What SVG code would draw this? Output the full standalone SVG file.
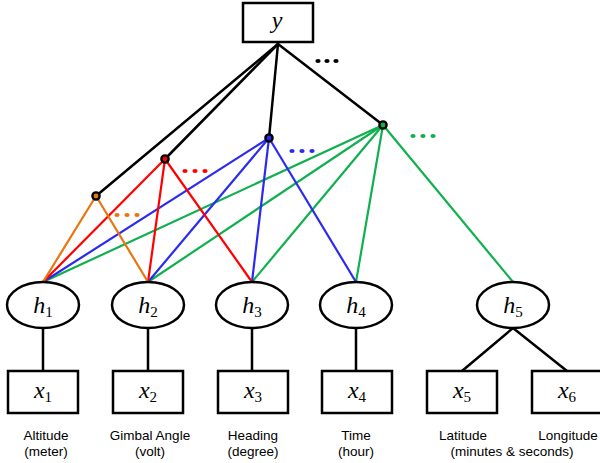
<svg xmlns="http://www.w3.org/2000/svg" width="600" height="463" viewBox="0 0 600 463">
<style>
.box{fill:#fff;stroke:#000;stroke-width:2.5}
.ell{fill:#fff;stroke:#000;stroke-width:2.5}
.blk{stroke:#000;stroke-width:2.5;fill:none;stroke-linecap:round}
.or{stroke:#E8760F;stroke-width:2.2}
.rd{stroke:#FF0000;stroke-width:2.2}
.bl{stroke:#2B2BF0;stroke-width:2.2}
.gr{stroke:#10B050;stroke-width:2.2}
.math{font-family:"Liberation Serif","Times New Roman",serif;font-style:italic;font-size:24px;text-anchor:middle}
.sub{font-size:15px;font-style:normal}
.lab{font-family:"Liberation Sans",Arial,sans-serif;font-size:13.5px;text-anchor:middle;fill:#000}
.hn{stroke:#000;stroke-width:2.4}
</style>
<g id="connectors">
  <line class="blk" x1="278" y1="44" x2="96" y2="196"/>
  <line class="blk" x1="278" y1="44" x2="165" y2="159"/>
  <line class="blk" x1="278" y1="44" x2="269" y2="138"/>
  <line class="blk" x1="278" y1="44" x2="383" y2="125"/>
  <line class="gr" x1="383" y1="125" x2="43" y2="282"/>
  <line class="gr" x1="383" y1="125" x2="148" y2="282"/>
  <line class="gr" x1="383" y1="125" x2="252" y2="282"/>
  <line class="gr" x1="383" y1="125" x2="356" y2="282"/>
  <line class="gr" x1="383" y1="125" x2="513" y2="282"/>
  <line class="bl" x1="269" y1="138" x2="43" y2="282"/>
  <line class="bl" x1="269" y1="138" x2="148" y2="282"/>
  <line class="bl" x1="269" y1="138" x2="252" y2="282"/>
  <line class="bl" x1="269" y1="138" x2="356" y2="282"/>
  <line class="rd" x1="165" y1="159" x2="43" y2="282"/>
  <line class="rd" x1="165" y1="159" x2="148" y2="282"/>
  <line class="rd" x1="165" y1="159" x2="252" y2="282"/>
  <line class="or" x1="96" y1="196" x2="43" y2="282"/>
  <line class="or" x1="96" y1="196" x2="148" y2="282"/>
  <line class="blk" x1="43" y1="328" x2="43" y2="371"/>
  <line class="blk" x1="148" y1="328" x2="148" y2="371"/>
  <line class="blk" x1="252" y1="328" x2="252" y2="371"/>
  <line class="blk" x1="356" y1="328" x2="356" y2="371"/>
  <line class="blk" x1="513" y1="328" x2="462" y2="371"/>
  <line class="blk" x1="513" y1="328" x2="567" y2="371"/>
</g>
<g id="ellipses-dots">
  <g fill="#000"><ellipse cx="318" cy="61" rx="2.6" ry="2"/><ellipse cx="327" cy="61" rx="2.6" ry="2"/><ellipse cx="336" cy="61" rx="2.6" ry="2"/></g>
  <g fill="#E8760F"><ellipse cx="117" cy="215" rx="2.6" ry="2"/><ellipse cx="127" cy="215" rx="2.6" ry="2"/><ellipse cx="137" cy="215" rx="2.6" ry="2"/></g>
  <g fill="#FF0000"><ellipse cx="185" cy="171" rx="2.6" ry="2"/><ellipse cx="195" cy="171" rx="2.6" ry="2"/><ellipse cx="205" cy="171" rx="2.6" ry="2"/></g>
  <g fill="#2B2BF0"><ellipse cx="292" cy="151" rx="2.6" ry="2"/><ellipse cx="302" cy="151" rx="2.6" ry="2"/><ellipse cx="312" cy="151" rx="2.6" ry="2"/></g>
  <g fill="#10B050"><ellipse cx="413" cy="136" rx="2.6" ry="2"/><ellipse cx="423" cy="136" rx="2.6" ry="2"/><ellipse cx="433" cy="136" rx="2.6" ry="2"/></g>
</g>
<g id="y">
  <rect class="box" x="243" y="3" width="70" height="39"/>
  <text class="math" x="277" y="28">y</text>
</g>
<g id="n-orange"><circle class="hn" cx="96" cy="196" r="3.6" fill="#E8760F"/></g>
<g id="n-red"><circle class="hn" cx="165" cy="159" r="3.6" fill="#FF0000"/></g>
<g id="n-blue"><circle class="hn" cx="269" cy="138" r="3.6" fill="#2B2BF0"/></g>
<g id="n-green"><circle class="hn" cx="383" cy="125" r="3.6" fill="#10B050"/></g>
<g id="h1"><ellipse class="ell" cx="43" cy="305" rx="36" ry="23"/><text class="math" x="43" y="313">h<tspan class="sub" dy="4">1</tspan></text></g>
<g id="h2"><ellipse class="ell" cx="148" cy="305" rx="36" ry="23"/><text class="math" x="148" y="313">h<tspan class="sub" dy="4">2</tspan></text></g>
<g id="h3"><ellipse class="ell" cx="252" cy="305" rx="36" ry="23"/><text class="math" x="252" y="313">h<tspan class="sub" dy="4">3</tspan></text></g>
<g id="h4"><ellipse class="ell" cx="356" cy="305" rx="36" ry="23"/><text class="math" x="356" y="313">h<tspan class="sub" dy="4">4</tspan></text></g>
<g id="h5"><ellipse class="ell" cx="513" cy="305" rx="36" ry="23"/><text class="math" x="513" y="313">h<tspan class="sub" dy="4">5</tspan></text></g>
<g id="x1"><rect class="box" x="8" y="371" width="70" height="42"/><text class="math" x="43" y="398">x<tspan class="sub" dy="4">1</tspan></text></g>
<g id="x2"><rect class="box" x="113" y="371" width="70" height="42"/><text class="math" x="148" y="398">x<tspan class="sub" dy="4">2</tspan></text></g>
<g id="x3"><rect class="box" x="218" y="371" width="70" height="42"/><text class="math" x="253" y="398">x<tspan class="sub" dy="4">3</tspan></text></g>
<g id="x4"><rect class="box" x="322" y="371" width="70" height="42"/><text class="math" x="357" y="398">x<tspan class="sub" dy="4">4</tspan></text></g>
<g id="x5"><rect class="box" x="427" y="371" width="70" height="42"/><text class="math" x="462" y="398">x<tspan class="sub" dy="4">5</tspan></text></g>
<g id="x6"><rect class="box" x="532" y="371" width="70" height="42"/><text class="math" x="567" y="398">x<tspan class="sub" dy="4">6</tspan></text></g>
<g id="labels">
  <text class="lab" x="46" y="440">Altitude</text><text class="lab" x="46" y="456">(meter)</text>
  <text class="lab" x="150" y="440">Gimbal Angle</text><text class="lab" x="150" y="456">(volt)</text>
  <text class="lab" x="253" y="440">Heading</text><text class="lab" x="253" y="456">(degree)</text>
  <text class="lab" x="356" y="440">Time</text><text class="lab" x="356" y="456">(hour)</text>
  <text class="lab" x="463" y="440">Latitude</text><text class="lab" x="568" y="440">Longitude</text>
  <text class="lab" x="512" y="456">(minutes &amp; seconds)</text>
</g>
</svg>
